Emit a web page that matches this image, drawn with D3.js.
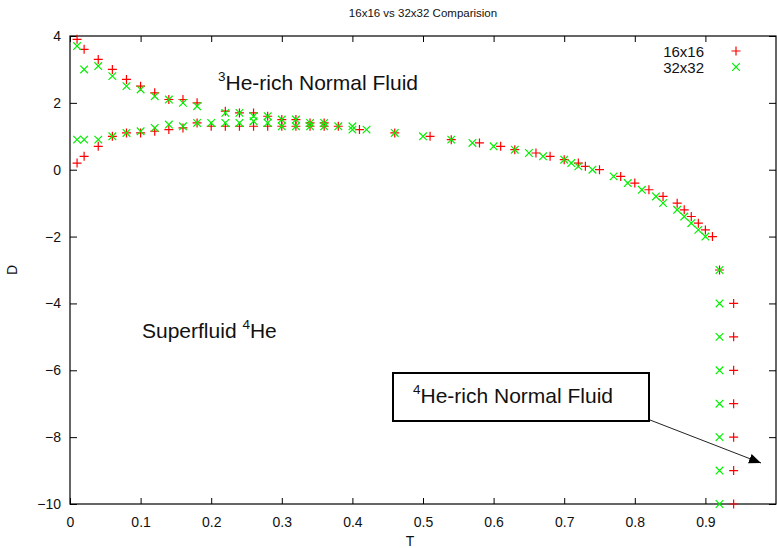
<!DOCTYPE html>
<html>
<head>
<meta charset="utf-8">
<script src="https://cdn.jsdelivr.net/npm/d3@7"></script>
<style>
  html, body { margin: 0; padding: 0; background: #fff; }
  svg { display: block; font-family: "Liberation Sans", Arial, Helvetica, sans-serif; }
</style>
</head>
<body>
<svg id="chart" width="777" height="548"></svg>
<script>
// Phase boundary estimates, D vs T, for two lattice sizes.
const t16 = [
  0.01, 0.02, 0.04, 0.06, 0.08, 0.10, 0.12, 0.14, 0.16, 0.18, 0.22, 0.24, 0.26, 0.28, 0.30, 0.32, 0.34, 0.36,
  0.01, 0.02, 0.04, 0.06, 0.08, 0.10, 0.12, 0.14, 0.16, 0.18, 0.20, 0.22, 0.24, 0.26, 0.28, 0.30, 0.32, 0.34, 0.36, 0.38,
  0.41, 0.46, 0.51, 0.54, 0.58, 0.61, 0.63, 0.66, 0.68, 0.70, 0.72, 0.73, 0.75, 0.78, 0.80, 0.82, 0.84, 0.86, 0.87, 0.88, 0.89, 0.90, 0.91,
  0.92, 0.94, 0.94, 0.94, 0.94, 0.94, 0.94, 0.94
];
const d16 = [
  3.9, 3.6, 3.3, 3.0, 2.7, 2.5, 2.3, 2.1, 2.1, 2.0, 1.75, 1.7, 1.7, 1.6, 1.5, 1.5, 1.4, 1.4,
  0.2, 0.4, 0.7, 1.0, 1.1, 1.1, 1.15, 1.2, 1.25, 1.4, 1.3, 1.3, 1.3, 1.3, 1.3, 1.3, 1.3, 1.3, 1.3, 1.3,
  1.2, 1.1, 1.0, 0.9, 0.8, 0.7, 0.6, 0.5, 0.4, 0.3, 0.2, 0.1, 0.0, -0.2, -0.4, -0.6, -0.8, -1.0, -1.2, -1.4, -1.6, -1.8, -2.0,
  -3, -4, -5, -6, -7, -8, -9, -10
];
const t32 = [
  0.01, 0.02, 0.04, 0.06, 0.08, 0.10, 0.12, 0.14, 0.16, 0.18, 0.22, 0.24, 0.26, 0.28, 0.30, 0.32, 0.34, 0.36,
  0.01, 0.02, 0.04, 0.06, 0.08, 0.10, 0.12, 0.14, 0.16, 0.18, 0.20, 0.22, 0.24, 0.26, 0.28, 0.30, 0.32, 0.34, 0.36, 0.38,
  0.40, 0.40, 0.42, 0.46, 0.50, 0.54, 0.57, 0.60, 0.63, 0.65, 0.67, 0.70, 0.71, 0.72, 0.74, 0.77, 0.79, 0.81, 0.83, 0.84, 0.86, 0.87, 0.88, 0.89, 0.90,
  0.92, 0.92, 0.92, 0.92, 0.92, 0.92, 0.92, 0.92
];
const d32 = [
  3.7, 3.0, 3.1, 2.8, 2.5, 2.4, 2.2, 2.1, 2.0, 1.9, 1.7, 1.7, 1.6, 1.6, 1.5, 1.5, 1.4, 1.4,
  0.9, 0.9, 0.9, 1.0, 1.1, 1.15, 1.25, 1.35, 1.3, 1.4, 1.4, 1.4, 1.4, 1.45, 1.4, 1.3, 1.3, 1.3, 1.3, 1.3,
  1.3, 1.2, 1.2, 1.1, 1.0, 0.9, 0.8, 0.7, 0.6, 0.5, 0.4, 0.3, 0.2, 0.1, 0.0, -0.2, -0.4, -0.6, -0.8, -1.0, -1.2, -1.4, -1.6, -1.8, -2.0,
  -3, -4, -5, -6, -7, -8, -9, -10
];
const seriesNames = ["16x16", "32x32"];
const seriesColors = ["#ff0000", "#00f000"];
const xTicks = [0, 0.1, 0.2, 0.3, 0.4, 0.5, 0.6, 0.7, 0.8, 0.9];
const yTicks = [4, 2, 0, -2, -4, -6, -8, -10];

const svg = d3.select("#chart");
const plotL = 70, plotR = 776, plotT = 36, plotB = 504;

const x = d3.scaleLinear().domain([0, 1]).range([plotL, plotR]);
const y = d3.scaleLinear().domain([-10, 4]).range([plotB, plotT]);

// Axes with inward ticks, mirrored on top and right
const fmtX = d => d === 0 ? "0" : d3.format(".1f")(d);
const axB = svg.append("g").attr("transform", `translate(0,${plotB})`)
  .call(d3.axisBottom(x).tickValues(xTicks).tickSize(-6).tickPadding(13).tickFormat(fmtX));
const axT = svg.append("g").attr("transform", `translate(0,${plotT})`)
  .call(d3.axisTop(x).tickValues(xTicks).tickSize(-6).tickFormat(""));
const axL = svg.append("g").attr("transform", `translate(${plotL},0)`)
  .call(d3.axisLeft(y).tickValues(yTicks).tickSize(-7).tickPadding(9).tickFormat(d3.format("d")));
const axR = svg.append("g").attr("transform", `translate(${plotR},0)`)
  .call(d3.axisRight(y).tickValues(yTicks).tickSize(-7).tickFormat(""));

[axB, axT, axL, axR].forEach(g => {
  g.select(".domain").remove();
  g.selectAll(".tick line").attr("stroke", "#000").attr("stroke-width", 1);
  g.selectAll(".tick text").attr("font-size", 14).attr("fill", "#111")
    .attr("font-family", "'Liberation Sans', Arial, sans-serif");
});

// Frame
svg.append("rect")
  .attr("x", plotL).attr("y", plotT)
  .attr("width", plotR - plotL).attr("height", plotB - plotT)
  .attr("fill", "none").attr("stroke", "#000").attr("stroke-width", 1.2);

// Markers
const plus = (g, cx, cy, r, color) => {
  g.append("path").attr("d", `M${cx - r},${cy}H${cx + r}M${cx},${cy - r}V${cy + r}`)
    .attr("stroke", color).attr("stroke-width", 1.2).attr("fill", "none");
};
const cross = (g, cx, cy, r, color) => {
  g.append("path").attr("d", `M${cx - r},${cy - r}L${cx + r},${cy + r}M${cx - r},${cy + r}L${cx + r},${cy - r}`)
    .attr("stroke", color).attr("stroke-width", 1.2).attr("fill", "none");
};

const pts16 = t16.map((t, i) => ({ t, d: d16[i] }));
const pts32 = t32.map((t, i) => ({ t, d: d32[i] }));

const g16 = svg.append("g");
pts16.forEach(p => plus(g16, x(p.t), y(p.d), 4.5, seriesColors[0]));
const g32 = svg.append("g");
pts32.forEach(p => cross(g32, x(p.t), y(p.d), 3.8, seriesColors[1]));

// Legend
const leg = svg.append("g");
seriesNames.forEach((name, i) => {
  const cy = 51 + i * 16;
  leg.append("text").attr("x", 704).attr("y", cy + 5.5).attr("text-anchor", "end")
    .attr("font-size", 15).attr("fill", "#111").text(name);
  if (i === 0) plus(leg, 736, cy, 4.5, seriesColors[0]);
  else cross(leg, 736, cy, 3.8, seriesColors[1]);
});

// Title and axis labels
svg.append("text").attr("x", 423).attr("y", 17).attr("text-anchor", "middle")
  .attr("font-size", 11.5).attr("fill", "#111").text("16x16 vs 32x32 Comparision");
svg.append("text").attr("x", 410).attr("y", 546).attr("text-anchor", "middle")
  .attr("font-size", 14).attr("fill", "#111").text("T");
svg.append("text").attr("transform", "translate(17,270) rotate(-90)").attr("text-anchor", "middle")
  .attr("font-size", 14).attr("fill", "#111").text("D");

// Region labels with isotope superscripts
const isoLabel = (px, py, pre, sup, rest) => {
  const t = svg.append("text").attr("x", px).attr("y", py).attr("font-size", 21).attr("fill", "#111");
  if (pre) t.append("tspan").text(pre);
  t.append("tspan").attr("font-size", 13.5).attr("dy", -9).text(sup);
  t.append("tspan").attr("dy", 9).text(rest);
};
isoLabel(218, 90, "", "3", "He-rich Normal Fluid");
isoLabel(142, 338, "Superfluid ", "4", "He");

// Boxed label with arrow
svg.append("rect").attr("x", 393).attr("y", 373).attr("width", 256).attr("height", 48)
  .attr("fill", "#fff").attr("stroke", "#000").attr("stroke-width", 2);
isoLabel(413, 403, "", "4", "He-rich Normal Fluid");

svg.append("defs").append("marker")
  .attr("id", "head").attr("viewBox", "0 0 12 10").attr("refX", 12).attr("refY", 5)
  .attr("markerWidth", 12).attr("markerHeight", 10).attr("markerUnits", "userSpaceOnUse")
  .attr("orient", "auto")
  .append("path").attr("d", "M0,0L12,5L0,10Z").attr("fill", "#000");
svg.append("line").attr("x1", 650).attr("y1", 420).attr("x2", 761).attr("y2", 463)
  .attr("stroke", "#222").attr("stroke-width", 1).attr("marker-end", "url(#head)");
</script>
</body>
</html>
